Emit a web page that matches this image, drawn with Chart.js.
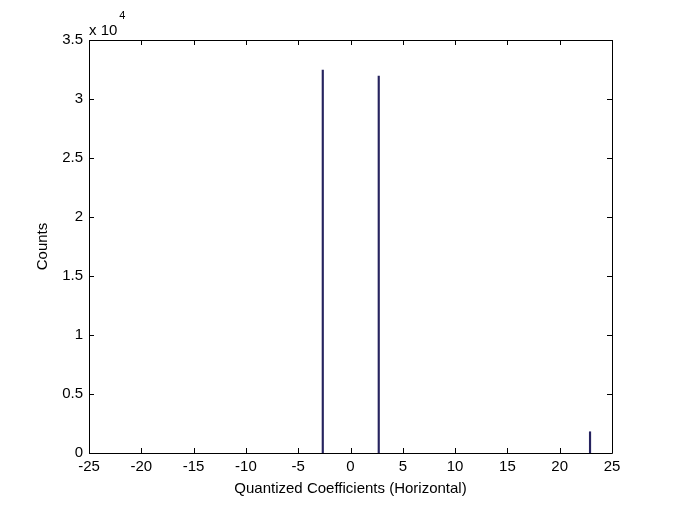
<!DOCTYPE html>
<html lang="en">
<head>
    <meta charset="UTF-8">
    <title>Quantized Coefficients (Horizontal)</title>
    <style>
        html, body { margin: 0; padding: 0; background: #fff; }
        #wrap { width: 677px; height: 508px; }
    </style>
    <script src="https://cdn.jsdelivr.net/npm/chart.js"></script>
</head>
<body>
    <div id="wrap"><canvas id="histChart" width="677" height="508"></canvas></div>

    <script>
        // histogram bins
        const binCenters = [-2.65, 2.7, 22.9];
        const counts = [32450, 31950, 1800];
        const xTickValues = [-25, -20, -15, -10, -5, 0, 5, 10, 15, 20, 25];
        const yTickLabels = ['0', '0.5', '1', '1.5', '2', '2.5', '3', '3.5'];
        const yExponent = '4';

        const FONT = "'Liberation Sans', Arial, sans-serif";
        const FSIZE = 15;

        // MATLAB style box with inward ticks + the "x 10^4" multiplier
        const matlabAxes = {
            id: 'matlabAxes',
            afterDraw(chart) {
                const ctx = chart.ctx;
                const area = chart.chartArea;
                const xs = chart.scales.x;
                const ys = chart.scales.y;
                const len = 5;
                ctx.save();
                ctx.strokeStyle = '#000';
                ctx.lineWidth = 1;
                ctx.beginPath();
                ctx.moveTo(area.left + 0.5, area.bottom + 0.5);
                ctx.lineTo(area.left + 0.5, area.top + 0.5);
                ctx.lineTo(area.right + 0.5, area.top + 0.5);
                ctx.lineTo(area.right + 0.5, area.bottom + 0.5);
                ctx.lineTo(area.left + 0.5, area.bottom + 0.5);
                xs.ticks.forEach(t => {
                    const px = Math.round(xs.getPixelForValue(t.value)) + 0.5;
                    ctx.moveTo(px, area.bottom);
                    ctx.lineTo(px, area.bottom - len);
                    ctx.moveTo(px, area.top);
                    ctx.lineTo(px, area.top + len);
                });
                ys.ticks.forEach(t => {
                    const py = Math.round(ys.getPixelForValue(t.value)) + 0.5;
                    ctx.moveTo(area.left, py);
                    ctx.lineTo(area.left + len, py);
                    ctx.moveTo(area.right, py);
                    ctx.lineTo(area.right - len, py);
                });
                ctx.stroke();

                ctx.fillStyle = '#000';
                ctx.textAlign = 'left';
                ctx.textBaseline = 'alphabetic';
                ctx.font = FSIZE + 'px ' + FONT;
                ctx.fillText('x 10', area.left, 35);
                const w = ctx.measureText('x 10').width;
                ctx.font = '11px ' + FONT;
                ctx.fillText(yExponent, area.left + w + 2, 19);
                ctx.restore();
            }
        };

        const ctx = document.getElementById('histChart').getContext('2d');
        new Chart(ctx, {
            type: 'bar',
            data: {
                datasets: [{
                    label: 'Counts',
                    data: binCenters.map((c, i) => ({ x: c, y: counts[i] })),
                    backgroundColor: '#26235f',
                    borderWidth: 0,
                    barThickness: 1.5
                }]
            },
            options: {
                responsive: false,
                animation: false,
                devicePixelRatio: 1,
                layout: { padding: { top: 40, right: 65, left: 0, bottom: 0 } },
                plugins: {
                    legend: { display: false },
                    tooltip: { enabled: false }
                },
                scales: {
                    x: {
                        type: 'linear',
                        min: -25,
                        max: 25,
                        offset: false,
                        afterBuildTicks: scale => {
                            scale.ticks = xTickValues.map(v => ({ value: v }));
                        },
                        afterFit: scale => { scale.height = 55; },
                        grid: { display: false, drawTicks: false, offset: false },
                        border: { display: false },
                        ticks: {
                            color: '#000',
                            font: { family: FONT, size: FSIZE },
                            padding: 5,
                            maxRotation: 0,
                            autoSkip: false
                        },
                        title: {
                            display: true,
                            text: 'Quantized Coefficients (Horizontal)',
                            color: '#000',
                            font: { family: FONT, size: FSIZE },
                            padding: { top: 0, bottom: 10 }
                        }
                    },
                    y: {
                        min: 0,
                        max: 35000,
                        afterBuildTicks: scale => {
                            scale.ticks = yTickLabels.map((s, i) => ({ value: i * 5000 }));
                        },
                        afterFit: scale => { scale.width = 89; },
                        grid: { display: false, drawTicks: false },
                        border: { display: false },
                        ticks: {
                            color: '#000',
                            font: { family: FONT, size: FSIZE },
                            padding: 6,
                            autoSkip: false,
                            callback: (v, i) => yTickLabels[i]
                        },
                        title: {
                            display: true,
                            text: 'Counts',
                            color: '#000',
                            font: { family: FONT, size: FSIZE },
                            padding: { top: 34, bottom: 0 }
                        }
                    }
                }
            },
            plugins: [matlabAxes]
        });
    </script>
</body>
</html>
